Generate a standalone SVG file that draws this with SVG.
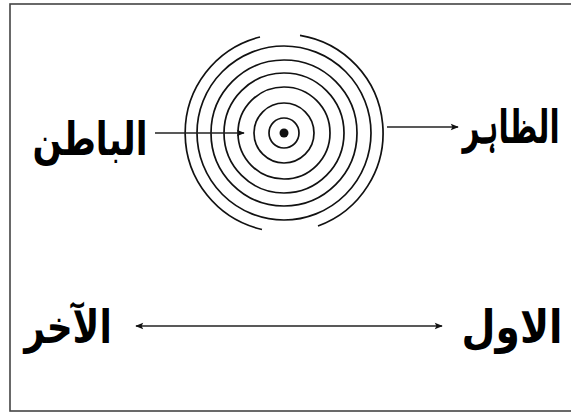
<svg xmlns="http://www.w3.org/2000/svg" width="571" height="414" viewBox="0 0 571 414">
<defs>
<marker id="ah" viewBox="0 0 10 10" refX="9" refY="5" markerWidth="10" markerHeight="8" markerUnits="userSpaceOnUse" orient="auto-start-reverse">
<path d="M0,1 L10,5 L0,9 L2,5 Z" fill="#111"/>
</marker>
<style>
.ring{fill:none;stroke:#111;stroke-width:1.7}
.conn{stroke:#222;stroke-width:1.5;fill:none}
.lbl{font-family:"DejaVu Sans","Noto Sans",sans-serif;font-size:40px;font-weight:bold;fill:#000}
</style>
</defs>
<rect x="10" y="4" width="570" height="407" fill="#fff" stroke="#444" stroke-width="1.6"/>
<g id="target">
<circle cx="284" cy="133" r="4.5" fill="#111"/>
<circle class="ring" cx="284" cy="133" r="15"/>
<circle class="ring" cx="284" cy="133" r="30"/>
<circle class="ring" cx="284" cy="133" r="46"/>
<circle class="ring" cx="284" cy="133" r="60"/>
<circle class="ring" cx="284" cy="133" r="73"/>
<circle class="ring" cx="284" cy="133" r="87"/>
<path class="ring" d="M260,37 A99,99 0 0 0 262,229.5 M318,226 A99,99 0 0 0 300,35.3"/>
</g>
<g id="connectors">
<line class="conn" x1="155" y1="133" x2="244" y2="133" marker-end="url(#ah)"/>
<line class="conn" x1="387" y1="127" x2="458" y2="127" marker-end="url(#ah)"/>
<line class="conn" x1="136" y1="326" x2="442" y2="326" marker-start="url(#ah)" marker-end="url(#ah)"/>
</g>
<g id="batin"><text class="lbl" transform="translate(90,155) scale(0.86,1.15)" text-anchor="middle" direction="rtl">الباطن</text></g>
<g id="zahir"><text class="lbl" transform="translate(511,143) scale(0.74,1.15)" text-anchor="middle" direction="rtl">الظاہر</text></g>
<g id="akhir"><text class="lbl" transform="translate(68,343) scale(0.9,1.15)" text-anchor="middle" direction="rtl">الآخر</text></g>
<g id="awwal"><text class="lbl" transform="translate(512,343) scale(0.98,1.15)" text-anchor="middle" direction="rtl">الاول</text></g>
</svg>
